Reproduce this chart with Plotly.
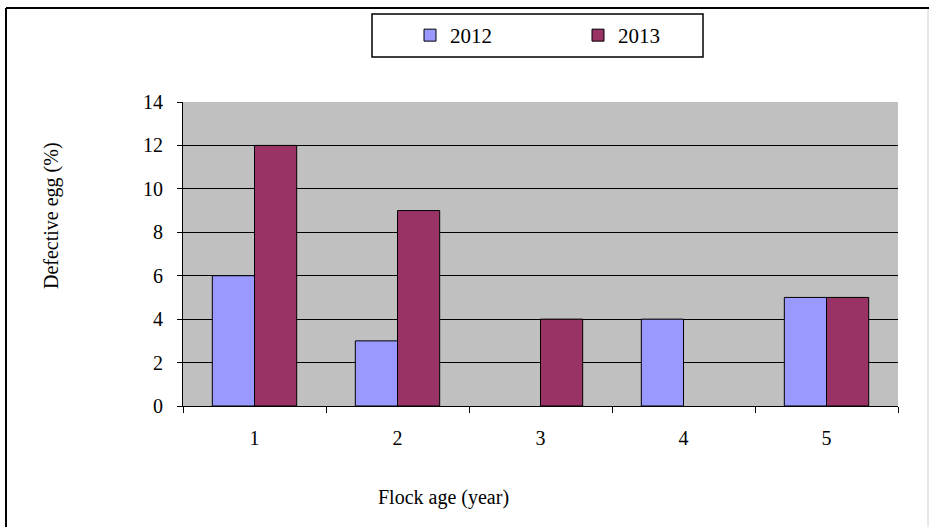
import plotly.graph_objects as go

# Defective egg percentage by flock age for two production years
flock_age = ["1", "2", "3", "4", "5"]
defective_2012 = [6, 3, None, 4, 5]
defective_2013 = [12, 9, 4, None, 5]
y_ticks = [0, 2, 4, 6, 8, 10, 12, 14]
grid_levels = [2, 4, 6, 8, 10, 12]

FONT = "Liberation Serif"

fig = go.Figure()
fig.add_trace(go.Bar(
    x=flock_age, y=defective_2012, name="2012",
    marker=dict(color="#9999FF", line=dict(color="black", width=1)),
))
fig.add_trace(go.Bar(
    x=flock_age, y=defective_2013, name="2013",
    marker=dict(color="#993366", line=dict(color="black", width=1)),
))

# plot area spans pixels x 183..898, y 102..406
L, R, T, B = 183, 898, 102, 406
W, H = 929, 527
def px_x(p):
    return (p - L) / (R - L)
def px_y(p):
    return (B - p) / (B - T)

frame = dict(xref="paper", yref="paper", type="line", layer="below")

fig.update_layout(
    width=W, height=H,
    margin=dict(l=L, r=W - R, t=T, b=H - B, pad=0),
    paper_bgcolor="white",
    plot_bgcolor="#C0C0C0",
    barmode="group",
    bargap=0.41,
    bargroupgap=0,
    font=dict(family=FONT, size=20, color="black"),
    showlegend=True,
    legend=dict(
        orientation="h",
        x=px_x(410), y=px_y(15), xanchor="left", yanchor="top",
        entrywidth=123, entrywidthmode="pixels",
        bgcolor="rgba(0,0,0,0)", borderwidth=0,
        font=dict(family=FONT, size=21, color="black"),
        itemclick=False, itemdoubleclick=False,
    ),
    xaxis=dict(
        type="category",
        showline=True, linecolor="black", linewidth=1,
        ticks="outside", tickson="boundaries", ticklen=6, tickcolor="black",
        tickwidth=1, ticklabelstandoff=14,
        showgrid=False, zeroline=False,
        tickfont=dict(family=FONT, size=20),
    ),
    yaxis=dict(
        range=[0, 14],
        tickvals=y_ticks,
        showline=True, linecolor="black", linewidth=1,
        ticks="outside", ticklen=5, tickcolor="black", tickwidth=1,
        ticklabelstandoff=10,
        showgrid=False, zeroline=False,
        tickfont=dict(family=FONT, size=20),
        minor=dict(tickvals=grid_levels, showgrid=True, gridcolor="black",
                   gridwidth=1, ticks=""),
    ),
    shapes=[
        # outer chart frame
        dict(frame, x0=px_x(6), x1=px_x(929), y0=px_y(8), y1=px_y(8),
             line=dict(color="black", width=2)),
        dict(frame, x0=px_x(6), x1=px_x(6), y0=px_y(8), y1=px_y(535),
             line=dict(color="black", width=2)),
        dict(frame, x0=px_x(928), x1=px_x(928), y0=px_y(9), y1=px_y(535),
             line=dict(color="#D0D0D0", width=1)),
        # legend box
        dict(type="rect", xref="paper", yref="paper",
             x0=px_x(372), x1=px_x(703), y0=px_y(14), y1=px_y(57),
             line=dict(color="black", width=1.5), fillcolor="white",
             layer="below"),
    ],
    annotations=[
        dict(text="Defective egg (%)", xref="paper", yref="paper",
             x=px_x(51), y=px_y(216), textangle=-90, showarrow=False,
             xanchor="center", yanchor="middle",
             font=dict(family=FONT, size=20)),
        dict(text="Flock age (year)", xref="paper", yref="paper",
             x=px_x(443), y=px_y(497), showarrow=False,
             xanchor="center", yanchor="middle",
             font=dict(family=FONT, size=20)),
    ],
)

fig.write_html("out.html")
